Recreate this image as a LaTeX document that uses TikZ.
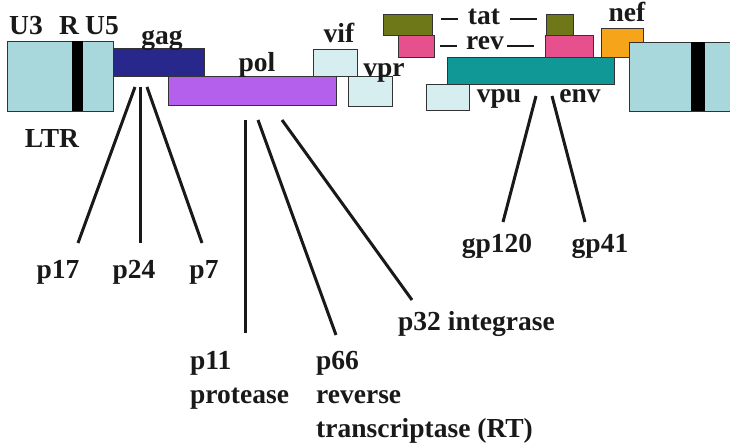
\documentclass[tikz,border=0pt]{standalone}
\usepackage{fontspec}
\setmainfont{Liberation Serif}
\usetikzlibrary{positioning,calc}
\definecolor{ltrBlue}  {RGB}{168,216,220}
\definecolor{accBlue}  {RGB}{214,238,240}
\definecolor{gagBlue}  {RGB}{ 40, 40,140}
\definecolor{polPurple}{RGB}{180, 96,236}
\definecolor{envTeal}  {RGB}{ 16,152,150}
\definecolor{tatOlive} {RGB}{110,120, 24}
\definecolor{revPink}  {RGB}{230, 80,140}
\definecolor{nefOrange}{RGB}{246,164, 26}
\tikzset{
  gene/.style={draw=black!80,line width=0.8pt,fill=#1,inner sep=0pt,
               anchor=north west},
  lab/.style={font=\bfseries\fontsize{27.5}{34}\selectfont,inner sep=0pt,
              anchor=base,black!90},
  cut/.style={line width=3pt,black!90},
  tick/.style={line width=1.8pt,black!90}
}
\begin{document}
\begin{tikzpicture}[x=1pt,y=-1pt]
        \clip (0,0) rectangle (730,446);
        \fill[white] (0,0) rectangle (730,446);
        % Genes
        \foreach \nm/\xa/\ya/\xb/\yb/\col in {
          ltrL/7/41/113/111/ltrBlue,
          gag/113/48/204/76/gagBlue,
          vif/313/49/357/76/accBlue,
          pol/168/76/336/105/polPurple,
          vpr/348/76/392/106/accBlue,
          tatA/383/14/432/35/tatOlive,
          revA/398/35/434/57/revPink,
          tatB/546/14/573/35/tatOlive,
          revB/545/35/593/57/revPink,
          nef/601/28/643/57/nefOrange,
          env/447/57/614/84/envTeal,
          vpu/426/84/469/110/accBlue,
          ltrR/629/42/740/111/ltrBlue}{
          \node[gene=\col,minimum width={(\xb-\xa)*1pt},
                minimum height={(\yb-\ya)*1pt}] (\nm) at (\xa,\ya) {};
        }
        \fill[black] (72,41.4) rectangle (83,110.6);
        \fill[black] (691,42.4) rectangle (705,110.6);
        % Labels
        \node[lab] (u3) at (26,35) {U3};
        \node[lab] (r) at (69,35) {R};
        \node[lab] (u5) at (102,35) {U5};
        \node[lab] (ltr) at (52,148) {LTR};
        \node[lab] (gagl) at (162,45) {gag};
        \node[lab] (poll) at (257,72) {pol};
        \node[lab] (vifl) at (339,43) {vif};
        \node[lab] (vprl) at (384,77) {vpr};
        \node[lab] (tat) at (484,25) {tat};
        \node[lab] (rev) at (485,50) {rev};
        \node[lab] (nefl) at (627,22) {nef};
        \node[lab] (vpul) at (499,103) {vpu};
        \node[lab] (envl) at (580,103) {env};
        \draw[tick] ($(tat.west)+(-10,2)$) -- ++(-17,0);
        \draw[tick] ($(tat.east)+(10,2)$) -- ++(27,0);
        \draw[tick] ($(rev.west)+(-9,2)$) -- ++(-17,0);
        \draw[tick] ($(rev.east)+(3,2)$) -- ++(27,0);
        % Proteins
        \node[lab] (p17) at (58,278) {p17};
        \node[lab] (p24) at (134,278) {p24};
        \node[lab] (p7) at (204,278) {p7};
        \node[lab,anchor=base west,align=left] (p11) at (190,403)
          {p11\\protease};
        \node[lab,anchor=base west,align=left] (p66) at (316,437)
          {p66\\reverse\\transcriptase (RT)};
        \node[lab,anchor=base west] (p32) at (398,330) {p32 integrase};
        \node[lab] (gp120) at (497,252) {gp120};
        \node[lab] (gp41) at (600,252) {gp41};
        \foreach \nm/\xa/\ya/\xb/\yb in {
          p17/135/87/78/243, p24/140/87/140/243, p7/147/87/202/243,
          p11/245/120/245/333, p66/258/120/336/335, p32/282/120/412/300,
          gp120/536/96/503/222, gp41/552/96/585/222}{
          \coordinate (\nm-top) at (\xa,\ya);
          \coordinate (\nm-end) at (\xb,\yb);
          \draw[cut] (\nm-top) -- (\nm-end);
        }
      \end{tikzpicture}
\end{document}
